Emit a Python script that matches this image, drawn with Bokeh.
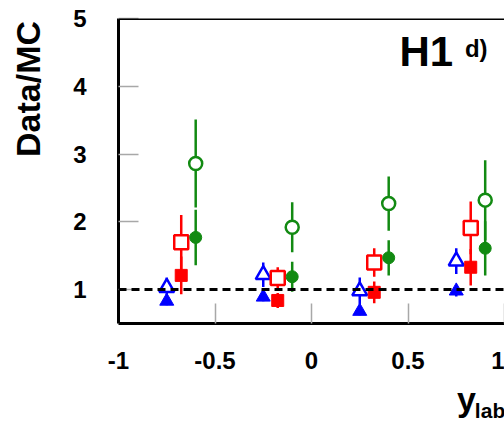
import numpy as np
from bokeh.plotting import figure
from bokeh.layouts import row, column
from bokeh.models import Span, Label, FixedTicker, ColumnDataSource, Range1d
from bokeh.embed import file_html
from bokeh.resources import INLINE

# ---- data ----
bin_centers = [-0.75, -0.25, 0.25, 0.75]
blue_open_y = [1.03, 1.22, 0.98, 1.42]
blue_open_err = [0.15, 0.18, 0.20, 0.19]
blue_full_y = [0.83, 0.89, 0.68, 0.98]
blue_full_err = [0.06, 0.06, 0.06, 0.08]
red_open_y = [1.70, 1.17, 1.40, 1.91]
red_open_err = [0.40, 0.16, 0.21, 0.39]
red_full_y = [1.21, 0.84, 0.96, 1.33]
red_full_err = [0.28, 0.11, 0.16, 0.27]
green_open_y = [2.86, 1.92, 2.27, 2.32]
green_open_err = [0.65, 0.37, 0.40, 0.59]
green_full_y = [1.77, 1.19, 1.47, 1.61]
green_full_err = [0.41, 0.22, 0.26, 0.40]

x_ticks = [-1, -0.5, 0, 0.5, 1]
x_tick_labels = ["-1", "-0.5", "0", "0.5", "1"]
y_ticks = [1, 2, 3, 4, 5]
y_title = "Data/MC"
x_title_main, x_title_sub = "y", "lab"

# ---- styling ----
BLUE = "#0000ff"
RED = "#ff0000"
GREEN = "#128a12"
FONT = "Liberation Sans"
LEFT_W = 48
TOTAL_W, TOTAL_H = 504, 422
MAIN_H = 378


def blank(width, height, xr, yr):
    f = figure(width=width, height=height, x_range=xr, y_range=yr,
               x_axis_type=None, y_axis_type=None,
               output_backend="svg", toolbar_location=None, min_border=0)
    f.grid.visible = False
    f.outline_line_color = None
    f.background_fill_color = "white"
    f.border_fill_color = "white"
    return f


def add_text(fig, x, y, text, size, align="left", angle=0.0):
    fig.add_layout(Label(x=x, y=y, text=text, text_font=FONT, text_font_style="bold",
                         text_font_size=size, text_color="black",
                         text_baseline="alphabetic", text_align=align, angle=angle))


# left strip with the y-axis title (pixel coordinates of the page)
left = blank(LEFT_W, TOTAL_H, Range1d(0, LEFT_W), Range1d(TOTAL_H, 0))
add_text(left, 27, 88.5, y_title, "34px", align="center", angle=np.pi / 2)

# main plot
p = figure(width=TOTAL_W - LEFT_W, height=MAIN_H, x_range=(-1, 1), y_range=(0.5, 5),
           output_backend="svg", toolbar_location=None,
           min_border_left=118 - LEFT_W, min_border_right=0,
           min_border_top=18, min_border_bottom=MAIN_H - 323)
p.grid.visible = False
p.outline_line_color = None
p.background_fill_color = "white"
p.border_fill_color = "white"

p.xaxis.ticker = FixedTicker(ticks=x_ticks)
p.xaxis.major_label_overrides = {float(t): l for t, l in zip(x_ticks, x_tick_labels)}
p.yaxis.ticker = FixedTicker(ticks=y_ticks)

for ax in (p.xaxis[0], p.yaxis[0]):
    ax.axis_line_width = 3
    ax.axis_line_color = "black"
    ax.major_tick_in = 20
    ax.major_tick_out = 0
    ax.major_tick_line_color = "#a8a8a8"
    ax.major_tick_line_width = 1.5
    ax.minor_tick_line_color = None
    ax.major_label_text_font = FONT
    ax.major_label_text_font_style = "bold"
    ax.major_label_text_font_size = "24px"
    ax.major_label_text_color = "black"
p.xaxis.major_label_standoff = 28
p.yaxis.major_label_standoff = 32

# top frame line
p.add_layout(Span(location=5, dimension="width", line_color="black", line_width=3))
# reference line at 1
p.add_layout(Span(location=1, dimension="width", line_color="black",
                  line_width=3, line_dash="8 5"))

series = [
    (0.0, blue_open_y, blue_open_err, blue_full_y, blue_full_err, BLUE, "triangle", 15, 14),
    (0.075, red_open_y, red_open_err, red_full_y, red_full_err, RED, "square", 14, 12),
    (0.15, green_open_y, green_open_err, green_full_y, green_full_err, GREEN, "circle", 13, 12),
]

# error bars first
for off, oy, oe, fy, fe, col, mk, so, sf in series:
    xs = np.array(bin_centers) + off
    for yv, ev in ((oy, oe), (fy, fe)):
        yv = np.array(yv); ev = np.array(ev)
        src = ColumnDataSource(dict(x=xs, lo=yv - ev, hi=yv + ev))
        p.segment(x0="x", y0="lo", x1="x", y1="hi", source=src,
                  line_color=col, line_width=2.5)

# markers
for off, oy, oe, fy, fe, col, mk, so, sf in series:
    xs = np.array(bin_centers) + off
    p.scatter(xs, fy, marker=mk, size=sf, fill_color=col, line_color=col, line_width=1)
    p.scatter(xs, oy, marker=mk, size=so, fill_color="white", line_color=col, line_width=2.5)

add_text(p, 0.456, 4.514, "H1", "42px")
add_text(p, 0.795, 4.553, "d)", "24px")

# bottom strip with the x-axis title (pixel coordinates of the page)
bottom = blank(TOTAL_W - LEFT_W, TOTAL_H - MAIN_H,
               Range1d(LEFT_W, TOTAL_W), Range1d(TOTAL_H, MAIN_H))
add_text(bottom, 448, 398.5, x_title_main, "34px")
add_text(bottom, 469, 409.5, x_title_sub, "21px")

layout = row(left, column(p, bottom, spacing=0), spacing=0)
open("out.html", "w").write(file_html(layout, INLINE))
